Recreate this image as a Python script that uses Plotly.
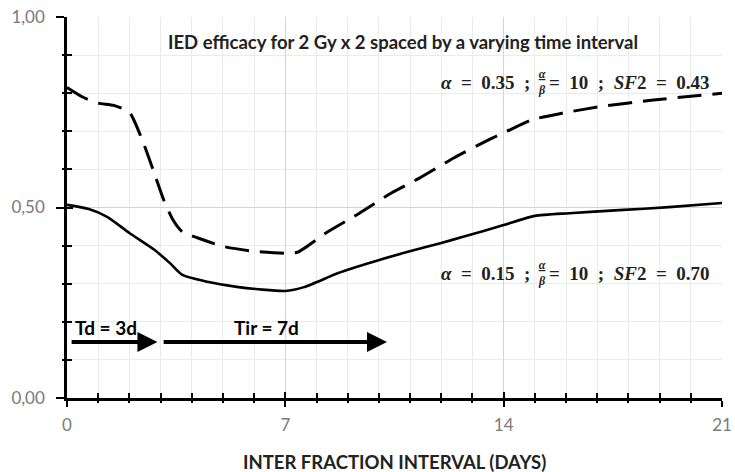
import plotly.graph_objects as go

# Data
days_a35 = [0, 0.5, 1.0, 1.5, 2.0, 2.4, 2.8, 3.1, 3.4, 3.7, 4.2, 5.0, 6.0, 7.0, 7.4,
            8.3, 9.4, 10.4, 11.3, 12.4, 13.5, 14.1, 14.9, 15.9, 17.2, 18.8, 21]
eff_a35 = [0.815, 0.79, 0.774, 0.768, 0.75, 0.68, 0.59, 0.52, 0.467, 0.436, 0.42, 0.398,
           0.385, 0.38, 0.383, 0.433, 0.486, 0.538, 0.577, 0.63, 0.677, 0.70, 0.73,
           0.748, 0.766, 0.782, 0.80]
days_a15 = [0, 0.7, 1.3, 2.0, 2.8, 3.3, 3.7, 4.5, 5.5, 7.0, 7.6, 8.7, 9.8, 10.9, 12.0,
            12.7, 14.0, 15.0, 16.1, 17.7, 19.3, 21]
eff_a15 = [0.507, 0.496, 0.475, 0.433, 0.389, 0.354, 0.323, 0.305, 0.291, 0.281, 0.291,
           0.328, 0.357, 0.383, 0.407, 0.423, 0.454, 0.478, 0.485, 0.493, 0.501, 0.512]

x_ticks = [0, 7, 14, 21]
y_ticks = [0, 0.5, 1.0]
td_days = 3
tir_days = 7

TXT = "Lato"
MATH = "Liberation Serif"
SP = "&nbsp;&nbsp;"

fig = go.Figure()
fig.add_trace(go.Scatter(x=days_a35, y=eff_a35, mode="lines",
                         line=dict(color="black", width=3, dash="24px,11px", shape="spline", smoothing=0.6),
                         showlegend=False, cliponaxis=False))
fig.add_trace(go.Scatter(x=days_a15, y=eff_a15, mode="lines",
                         line=dict(color="black", width=2.6, shape="spline", smoothing=0.6),
                         showlegend=False, cliponaxis=False))

# invisible trace on overlay axes to activate them
fig.add_trace(go.Scatter(x=[0], y=[0], xaxis="x2", yaxis="y2", mode="markers",
                         marker=dict(opacity=0), showlegend=False, hoverinfo="skip"))

grid_major = "#d4d4d4"
grid_minor = "#ebebeb"

fig.update_layout(
    width=735, height=472,
    margin=dict(l=67, r=13, t=17, b=74, autoexpand=False),
    paper_bgcolor="white", plot_bgcolor="white",
    separators=",.",
    xaxis=dict(range=[0, 21], tickvals=x_ticks, ticks="outside", ticklen=6, tickwidth=2,
               tickcolor="black", showline=True, linecolor="black", linewidth=2.5,
               showgrid=True, gridcolor=grid_major, gridwidth=1, zeroline=False, automargin=False,
               tickfont=dict(family=TXT, size=17, color="#7a7a7a"), ticklabelstandoff=4,
               minor=dict(dtick=1, tick0=0, ticks="outside", ticklen=2, tickwidth=1.5,
                          tickcolor="black", showgrid=True, gridcolor=grid_minor, gridwidth=1)),
    yaxis=dict(range=[0, 1], tickvals=y_ticks, tickformat=".2f", ticks="outside", ticklen=8,
               tickwidth=2, tickcolor="black", showline=True, linecolor="black", linewidth=2.5,
               showgrid=True, gridcolor=grid_major, gridwidth=1, zeroline=False, automargin=False,
               tickfont=dict(family=TXT, size=17, color="#7a7a7a"), ticklabelstandoff=8,
               minor=dict(dtick=0.1, tick0=0, ticks="outside", ticklen=2, tickwidth=1.5,
                          tickcolor="black", showgrid=True, gridcolor=grid_minor, gridwidth=1)),
    xaxis2=dict(range=[0, 21], overlaying="x", anchor="y", tickvals=x_ticks, ticks="inside",
                ticklen=6, tickwidth=2, tickcolor="black", showticklabels=False, automargin=False,
                showgrid=False, zeroline=False, showline=False,
                minor=dict(dtick=1, tick0=0, ticks="inside", ticklen=5, tickwidth=1.5,
                           tickcolor="black", showgrid=False)),
    yaxis2=dict(range=[0, 1], overlaying="y", anchor="x", side="left", tickvals=y_ticks,
                ticks="inside", ticklen=6, tickwidth=2, tickcolor="black", showticklabels=False,
                showgrid=False, zeroline=False, showline=False, automargin=False,
                minor=dict(dtick=0.1, tick0=0, ticks="inside", ticklen=5, tickwidth=1.5,
                           tickcolor="black", showgrid=False)),
)

ann = []
# title inside plot
ann.append(dict(x=10.77, y=0.934, xref="x", yref="y", showarrow=False,
                text="<b>IED efficacy for 2 Gy x 2 spaced by a varying time interval</b>",
                font=dict(family=TXT, size=18.5, color="#222222")))
# x axis title
ann.append(dict(x=0.5, y=-0.168, xref="paper", yref="paper", showarrow=False, yanchor="middle",
                text="<b>INTER FRACTION INTERVAL (DAYS)</b>",
                font=dict(family=TXT, size=18.5, color="#222222")))

# math labels
for yv, a, sf in [(0.829, "0.35", "0.43"), (0.328, "0.15", "0.70")]:
    ann.append(dict(x=14.91, y=yv, xref="x", yref="y", showarrow=False, xanchor="right",
                    text=f"<b><i>α</i>{SP}={SP}{a}{SP};</b>",
                    font=dict(family=MATH, size=19, color="#222222")))
    ann.append(dict(x=15.23, y=yv, xref="x", yref="y", showarrow=False, xanchor="center",
                    text="<b><i><u>α</u></i></b><br><b><i>β</i></b>",
                    font=dict(family=MATH, size=12, color="#222222")))
    ann.append(dict(x=15.4, y=yv, xref="x", yref="y", showarrow=False, xanchor="left",
                    text=f"<b>={SP}10{SP};{SP}<i>SF</i>2{SP}={SP}{sf}</b>",
                    font=dict(family=MATH, size=19, color="#222222")))

# arrows
arrow_y = 0.147
ann.append(dict(x=td_days - 0.1, y=arrow_y, ax=0.1, ay=arrow_y, xref="x", yref="y",
                axref="x", ayref="y", showarrow=True, arrowhead=2, arrowsize=1,
                arrowwidth=4, arrowcolor="black", text=""))
ann.append(dict(x=td_days + tir_days + 0.26, y=arrow_y, ax=td_days + 0.05, ay=arrow_y,
                xref="x", yref="y", axref="x", ayref="y", showarrow=True, arrowhead=2,
                arrowsize=1, arrowwidth=4, arrowcolor="black", text=""))
ann.append(dict(x=0.19, y=0.186, xref="x", yref="y", showarrow=False, xanchor="left",
                text=f"<b>Td = {td_days}d</b>", font=dict(family=TXT, size=19, color="black")))
ann.append(dict(x=6.41, y=0.186, xref="x", yref="y", showarrow=False, xanchor="center",
                text=f"<b>Tir = {tir_days}d</b>", font=dict(family=TXT, size=19, color="black")))

fig.update_layout(annotations=ann)
fig.write_html("out.html", config={"displayModeBar": False},
               post_script="document.body.style.margin='0px';")
